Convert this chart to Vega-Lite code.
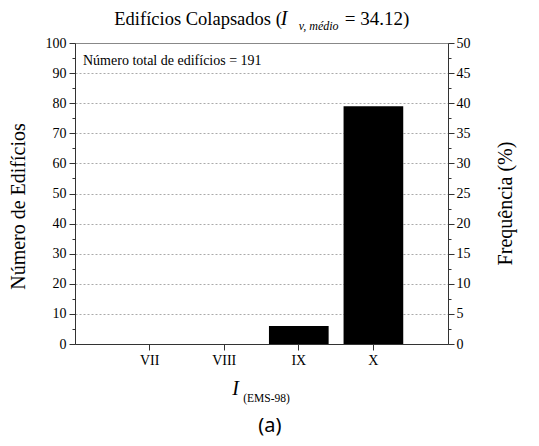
{
  "$schema": "https://vega.github.io/schema/vega-lite/v6.json",
  "width": 373,
  "height": 301,
  "autosize": "none",
  "padding": {"left": 75, "top": 43, "right": 91, "bottom": 102},
  "background": "white",
  "config": {
    "view": {"stroke": "#888888", "strokeWidth": 1},
    "font": "'Liberation Serif', 'Times New Roman', Times, serif",
    "axis": {"labelFont": "'Liberation Serif', 'Times New Roman', Times, serif", "titleFont": "'Liberation Serif', 'Times New Roman', Times, serif", "labelColor": "black", "titleColor": "black", "domainColor": "#333333", "tickColor": "#333333", "titleFontWeight": "normal", "labelFontSize": 14, "titleFontSize": 20}
  },
  "data": {"values": [
    {"I": "VII", "n": 0},
    {"I": "VIII", "n": 0},
    {"I": "IX", "n": 6},
    {"I": "X", "n": 79}
  ]},
  "resolve": {"axis": {"x": "independent", "y": "independent"}},
  "layer": [
    {
      "mark": {"type": "bar", "color": "black"},
      "encoding": {
        "x": {
          "field": "I", "type": "ordinal",
          "scale": {"domain": ["VII", "VIII", "IX", "X"], "paddingInner": 0.2, "paddingOuter": 0.6},
          "axis": {"orient": "bottom", "title": null, "labelAngle": 0, "tickSize": 6, "labelPadding": 3, "domainColor": "#333333", "grid": false}
        },
        "y": {
          "field": "n", "type": "quantitative",
          "scale": {"domain": [0, 100], "nice": false},
          "axis": {
            "orient": "left",
            "title": "Número de Edifícios",
            "values": [0, 5, 10, 15, 20, 25, 30, 35, 40, 45, 50, 55, 60, 65, 70, 75, 80, 85, 90, 95, 100],
            "labelExpr": "datum.value % 10 === 0 ? datum.label : ''",
            "tickSize": {"condition": {"test": "datum.value % 10 === 0", "value": 6}, "value": 3},
            "labelPadding": 3,
            "grid": true,
            "gridDash": [2, 2],
            "gridWidth": 1,
            "gridColor": {"condition": {"test": "datum.value % 10 === 0 && datum.value > 0 && datum.value < 100", "value": "#aaaaaa"}, "value": "rgba(0,0,0,0)"},
            "titleX": -57,
            "titleY": 163,
            "titleBaseline": "middle",
            "titleAngle": -90
          }
        }
      }
    },
    {
      "data": {"values": [{"t": "Número total de edifícios = 191"}]},
      "mark": {"type": "text", "align": "left", "baseline": "alphabetic", "dx": -66.6, "dy": 22, "fontSize": 14, "color": "black"},
      "encoding": {
        "x": {"datum": "VII", "type": "ordinal", "axis": null},
        "y": {
          "datum": 100, "type": "quantitative",
          "axis": {
            "orient": "right",
            "title": "Frequência (%)",
            "values": [0, 5, 10, 15, 20, 25, 30, 35, 40, 45, 50, 55, 60, 65, 70, 75, 80, 85, 90, 95, 100],
            "labelExpr": "datum.value % 10 === 0 ? format(datum.value / 2, 'd') : ''",
            "tickSize": {"condition": {"test": "datum.value % 10 === 0", "value": 6}, "value": 3},
            "labelPadding": 2,
            "grid": false,
            "titleX": 57,
            "titleY": 160,
            "titleBaseline": "middle",
            "titleAngle": -90
          }
        },
        "text": {"field": "t"}
      }
    },
    {
      "data": {"values": [{"t": "Edifícios Colapsados ("}]},
      "mark": {"type": "text", "align": "right", "baseline": "alphabetic", "dx": -17, "dy": -18, "fontSize": 18.5, "color": "black"},
      "encoding": {
        "x": {"datum": "IX", "type": "ordinal", "axis": null},
        "y": {"datum": 100, "type": "quantitative", "axis": null},
        "text": {"field": "t"}
      }
    },
    {
      "data": {"values": [{"t": "I"}]},
      "mark": {"type": "text", "align": "left", "baseline": "alphabetic", "dx": -18, "dy": -18, "fontSize": 20, "fontStyle": "italic", "color": "black"},
      "encoding": {
        "x": {"datum": "IX", "type": "ordinal", "axis": null},
        "y": {"datum": 100, "type": "quantitative", "axis": null},
        "text": {"field": "t"}
      }
    },
    {
      "data": {"values": [{"t": "v, médio"}]},
      "mark": {"type": "text", "align": "left", "baseline": "alphabetic", "dx": 0, "dy": -13, "fontSize": 12, "fontStyle": "italic", "color": "black"},
      "encoding": {
        "x": {"datum": "IX", "type": "ordinal", "axis": null},
        "y": {"datum": 100, "type": "quantitative", "axis": null},
        "text": {"field": "t"}
      }
    },
    {
      "data": {"values": [{"t": "= 34.12)"}]},
      "mark": {"type": "text", "align": "left", "baseline": "alphabetic", "dx": 46, "dy": -18, "fontSize": 19, "color": "black"},
      "encoding": {
        "x": {"datum": "IX", "type": "ordinal", "axis": null},
        "y": {"datum": 100, "type": "quantitative", "axis": null},
        "text": {"field": "t"}
      }
    },
    {
      "data": {"values": [{"t": "I"}]},
      "mark": {"type": "text", "align": "left", "baseline": "alphabetic", "dx": 8, "dy": 51, "fontSize": 20, "fontStyle": "italic", "color": "black"},
      "encoding": {
        "x": {"datum": "VIII", "type": "ordinal", "axis": null},
        "y": {"datum": 0, "type": "quantitative", "axis": null},
        "text": {"field": "t"}
      }
    },
    {
      "data": {"values": [{"t": "(EMS-98)"}]},
      "mark": {"type": "text", "align": "left", "baseline": "alphabetic", "dx": 19, "dy": 58, "fontSize": 11.5, "color": "black"},
      "encoding": {
        "x": {"datum": "VIII", "type": "ordinal", "axis": null},
        "y": {"datum": 0, "type": "quantitative", "axis": null},
        "text": {"field": "t"}
      }
    },
    {
      "data": {"values": [{"t": "(a)"}]},
      "mark": {"type": "text", "align": "center", "baseline": "alphabetic", "dx": -29, "dy": 88, "fontSize": 20, "font": "Noto Sans", "color": "black"},
      "encoding": {
        "x": {"datum": "IX", "type": "ordinal", "axis": null},
        "y": {"datum": 0, "type": "quantitative", "axis": null},
        "text": {"field": "t"}
      }
    }
  ]
}
